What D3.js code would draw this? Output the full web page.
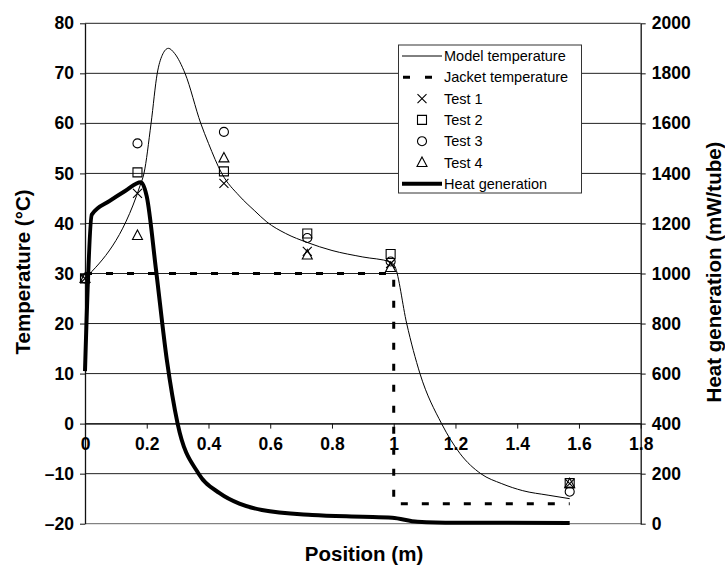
<!DOCTYPE html>
<html>
<head>
<meta charset="utf-8">
<script src="https://cdn.jsdelivr.net/npm/d3@7"></script>
<style>
  body { margin: 0; background: #fff; }
  svg { display: block; font-family: Arial, "Liberation Sans", sans-serif; }
</style>
</head>
<body>
<script>
// test positions (m) and measured temperatures (°C)
const positions = [0, 0.17, 0.45, 0.72, 0.99, 1.57];
const test1 = [29, 46, 48, 34.4, 32, -12];
const test2 = [29, 50.2, 50.4, 38, 33.9, -11.9];
const test3 = [29, 56, 58.3, 37.1, 32.4, -13.6];
const test4 = [29, 37.6, 53.1, 33.7, 31.2, -12];

// model temperature curve
const modelX = [0, 0.178, 0.191, 0.214, 0.234, 0.25, 0.27, 0.29, 0.324, 0.375, 0.40, 0.443, 0.5, 0.55, 0.589, 0.65, 0.72, 0.8, 0.9, 0.99, 1.004, 1.042, 1.085, 1.155, 1.215, 1.282, 1.35, 1.418, 1.5, 1.57];
const modelT = [29, 47.5, 50, 60, 70, 73.6, 75, 74, 70, 60, 56, 50, 45.5, 42.5, 40.3, 38, 36.2, 34.6, 33.3, 32.3, 31.4, 20, 10, 0, -6, -10, -12, -13.4, -14.3, -15];

// jacket temperature
const jacketX = [0, 1.0, 1.0, 1.57];
const jacketT = [30, 30, -16, -16];

// heat generation (mW/tube)
const heatX = [0, 0.022, 0.08, 0.13, 0.181, 0.2, 0.23, 0.265, 0.3, 0.368, 0.436, 0.5, 0.573, 0.736, 0.9, 0.995, 1.077, 1.2, 1.57];
const heatG = [610, 1235, 1290, 1330, 1365, 1308, 1015, 655, 400, 200, 122, 80, 55, 35, 28, 24, 8, 4, 3];

const xTicks = [0, 0.2, 0.4, 0.6, 0.8, 1, 1.2, 1.4, 1.6, 1.8];
const tempTicks = [80, 70, 60, 50, 40, 30, 20, 10, 0, -10, -20];
const heatTicks = [0, 200, 400, 600, 800, 1000, 1200, 1400, 1600, 1800, 2000];

const legendItems = ["Model temperature", "Jacket temperature", "Test 1", "Test 2", "Test 3", "Test 4", "Heat generation"];

const svg = d3.select("body").append("svg")
  .attr("width", 725)
  .attr("height", 566);

const x = d3.scaleLinear().domain([0, 1.8]).range([85, 640.7]);
const y = d3.scaleLinear().domain([-20, 80]).range([523.7, 23.3]);
const y2 = d3.scaleLinear().domain([0, 2000]).range([523.7, 23.3]);

const dash = v => String(v).replace("-", "\u2013");

// gridlines
svg.append("g").selectAll("line")
  .data(tempTicks)
  .join("line")
  .attr("x1", x(0)).attr("x2", x(1.8))
  .attr("y1", d => y(d)).attr("y2", d => y(d))
  .attr("stroke", d => d === -20 ? "#666" : "#222")
  .attr("stroke-width", 1);

// axes
const styleAxis = g => {
  g.select(".domain").attr("stroke", "#111").attr("stroke-width", 1.3);
  g.selectAll(".tick line").attr("stroke", "#111").attr("stroke-width", 1);
  g.selectAll(".tick text").attr("fill", "#000").attr("font-weight", "bold").attr("font-size", 17.5)
    .attr("font-family", "Arial, 'Liberation Sans', sans-serif");
};

svg.append("g")
  .attr("transform", `translate(${x(0)},0)`)
  .call(d3.axisLeft(y).tickValues(tempTicks).tickSize(5).tickSizeOuter(0).tickPadding(6).tickFormat(dash))
  .call(styleAxis);

svg.append("g")
  .attr("transform", `translate(${x(1.8)},0)`)
  .call(d3.axisRight(y2).tickValues(heatTicks).tickSize(5).tickSizeOuter(0).tickPadding(6).tickFormat(d => String(d)))
  .call(styleAxis);

svg.append("g")
  .attr("transform", `translate(0,${y(0)})`)
  .call(d3.axisBottom(x).tickValues(xTicks).tickSize(5).tickSizeOuter(0).tickPadding(9).tickFormat(d => String(d)))
  .call(styleAxis)
  .call(g => g.select(".domain").attr("stroke-width", 1));

// axis titles
svg.append("text")
  .attr("transform", "translate(22,272) rotate(-90)")
  .attr("text-anchor", "middle").attr("dominant-baseline", "central")
  .attr("font-weight", "bold").attr("font-size", 20.5)
  .text("Temperature (°C)");

svg.append("text")
  .attr("transform", "translate(713,272) rotate(-90)")
  .attr("text-anchor", "middle").attr("dominant-baseline", "central")
  .attr("font-weight", "bold").attr("font-size", 20.5)
  .text("Heat generation (mW/tube)");

svg.append("text")
  .attr("x", 364).attr("y", 553)
  .attr("text-anchor", "middle").attr("dominant-baseline", "central")
  .attr("font-weight", "bold").attr("font-size", 20.5)
  .text("Position (m)");

// series
svg.append("path")
  .datum(d3.zip(modelX, modelT))
  .attr("d", d3.line().x(d => x(d[0])).y(d => y(d[1])).curve(d3.curveMonotoneX))
  .attr("fill", "none").attr("stroke", "#000").attr("stroke-width", 1);

svg.append("path")
  .datum(d3.zip(jacketX, jacketT))
  .attr("d", d3.line().x(d => x(d[0])).y(d => y(d[1])))
  .attr("fill", "none").attr("stroke", "#000").attr("stroke-width", 3)
  .attr("stroke-dasharray", "7,14");

svg.append("path")
  .datum(d3.zip(heatX, heatG))
  .attr("d", d3.line().x(d => x(d[0])).y(d => y2(d[1])).curve(d3.curveMonotoneX))
  .attr("fill", "none").attr("stroke", "#000").attr("stroke-width", 4)
  .attr("stroke-linejoin", "round");

// markers
const markers = {
  cross: "M-4.5,-4.5L4.5,4.5M-4.5,4.5L4.5,-4.5",
  square: "M-4.5,-4.5H4.5V4.5H-4.5Z",
  circle: d3.symbol(d3.symbolCircle, 64)(),
  triangle: "M0,-5.5L5,4L-5,4Z"
};
const tests = [[test1, "cross"], [test2, "square"], [test3, "circle"], [test4, "triangle"]];

tests.forEach(([vals, shape]) => {
  svg.append("g").selectAll("path")
    .data(d3.zip(positions, vals))
    .join("path")
    .attr("transform", d => `translate(${x(d[0])},${y(d[1])})`)
    .attr("d", markers[shape])
    .attr("fill", "none").attr("stroke", "#000").attr("stroke-width", 1.1);
});

// legend
const lg = svg.append("g");
lg.append("rect")
  .attr("x", 398.5).attr("y", 45).attr("width", 183).attr("height", 148)
  .attr("fill", "#fff").attr("stroke", "#333").attr("stroke-width", 1);

const rowY = i => 56 + i * 21.3;
lg.selectAll("text")
  .data(legendItems)
  .join("text")
  .attr("x", 444).attr("y", (d, i) => rowY(i))
  .attr("dominant-baseline", "central")
  .attr("font-size", 14.5)
  .text(d => d);

lg.append("line").attr("x1", 402).attr("x2", 442).attr("y1", rowY(0)).attr("y2", rowY(0))
  .attr("stroke", "#000").attr("stroke-width", 1);
lg.append("line").attr("x1", 403).attr("x2", 436).attr("y1", rowY(1)).attr("y2", rowY(1))
  .attr("stroke", "#000").attr("stroke-width", 3).attr("stroke-dasharray", "7,15");
tests.forEach(([vals, shape], i) => {
  lg.append("path")
    .attr("transform", `translate(422,${rowY(i + 2)})`)
    .attr("d", markers[shape])
    .attr("fill", "none").attr("stroke", "#000").attr("stroke-width", 1.1);
});
lg.append("line").attr("x1", 402).attr("x2", 442).attr("y1", rowY(6)).attr("y2", rowY(6))
  .attr("stroke", "#000").attr("stroke-width", 4);
</script>
</body>
</html>
